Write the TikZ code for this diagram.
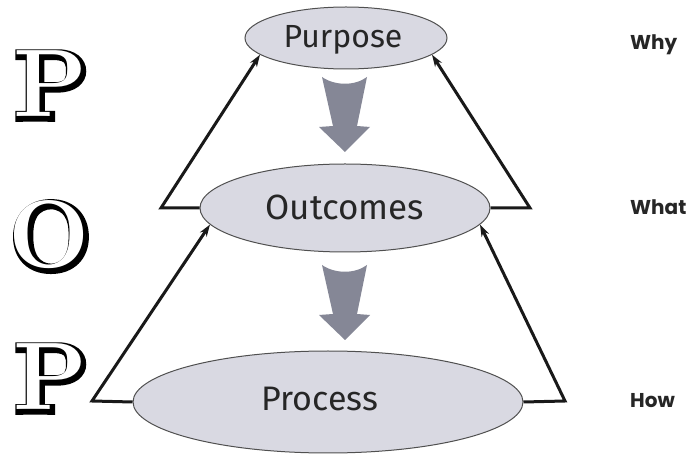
\documentclass[tikz,border=0pt]{standalone}
\usepackage{fontspec}
\usetikzlibrary{shapes.geometric,arrows.meta}
\newfontfamily\handfont{Fira Sans}
\newfontfamily\labfont{Poppins}
\newfontfamily\engfont{Latin Modern Roman}
\newfontfamily\engshadow{Latin Modern Roman}[FakeBold=7]
\definecolor{ellfill}{HTML}{D9D9E2}
\definecolor{ellline}{HTML}{505050}
\definecolor{arrgray}{HTML}{858796}
\newcommand\dropby[2]{\raisebox{-#1}{#2}}
\tikzset{
  ell/.style={ellipse, draw=ellline, line width=1pt, fill=ellfill, inner sep=0pt,
    text=black!85, text height=0.69em, text depth=0pt},
  conn/.style={line width=3pt, black!90, -{Stealth[length=12pt,width=8pt]}},
  side/.style={font=\labfont\bfseries\fontsize{20}{20}\selectfont, anchor=base west, inner sep=0pt, text=black!85},
  bigletter/.style={inner sep=0pt, anchor=base},
  downarrow/.pic={\fill[arrgray] (-23,0) .. controls (-10,9) and (10,9) .. (22,0)
      -- (12,49) -- (25,50) -- (0,75) -- (-26,50) -- (-12,49) -- cycle;}
}
\newcommand\engrave[3]{%
  \node[bigletter, text=black, font=\engshadow\bfseries\fontsize{96}{96}\selectfont] (#3s) at ([shift={(2pt,-1.5pt)}]#1) {#2};
  \node[bigletter, text=white, font=\engfont\bfseries\fontsize{96}{96}\selectfont] (#3) at (#1) {#2};
}
\begin{document}
\begin{tikzpicture}[x=1pt,y=-1pt]
\useasboundingbox[fill=white] (0,0) rectangle (689,454);

% ellipses
\node[ell, minimum width=202pt, minimum height=62pt, font=\handfont\fontsize{32}{32}\selectfont] (pur) at (346,38) {\dropby{6pt}{Purpose}\kern6pt};
\node[ell, minimum width=290pt, minimum height=88pt, font=\handfont\fontsize{35}{35}\selectfont] (out) at (345,208) {\dropby{8pt}{Outcomes}};
\node[ell, minimum width=390pt, minimum height=102pt, font=\handfont\fontsize{34}{34}\selectfont] (pro) at (328,402) {\dropby{5pt}{Process}\kern16pt};

% block arrows
\pic at (345,77) {downarrow};
\pic at (345,265) {downarrow};

% connector corners
\coordinate (c1) at (161,208);
\coordinate (c2) at (530,208);
\coordinate (c3) at (92,401);
\coordinate (c4) at (565,401);

\draw[conn] (out.west) -- (c1) -- (pur.191);
\draw[conn] (out.east) -- (c2) -- (pur.-11);
\draw[conn] (pro.west) -- (c3) -- (out.187);
\draw[conn] (pro.east) -- (c4) -- (out.-7);

% side labels
\node[side] (why) at (630,50) {Why};
\node[side] (what) at (630,215) {What};
\node[side] (how) at (630,408) {How};

% POP letters
\engrave{50,117}{P}{l1}
\engrave{49,268}{O}{l2}
\engrave{50,410}{P}{l3}
\end{tikzpicture}
\end{document}
